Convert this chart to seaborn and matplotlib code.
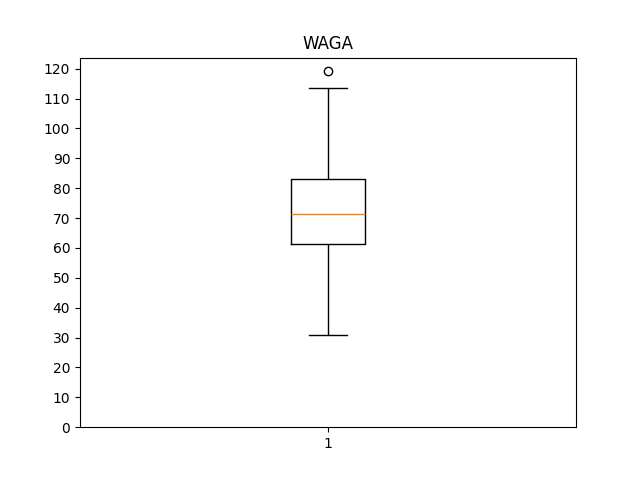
import matplotlib
matplotlib.use('Agg')
import matplotlib.pyplot as plt
import seaborn as sns
import pandas as pd

# WAGA sample, chosen so quartiles/whiskers match the chart
waga = [30.7, 50.0, 61.3, 66.0, 71.3, 78.0, 83.1, 113.5, 119.1]
title = 'WAGA'
tick_label = '1'

df = pd.DataFrame({'WAGA': waga})

fig, ax = plt.subplots(figsize=(6.4, 4.8), dpi=100)
sns.boxplot(data=df, y='WAGA', ax=ax, fill=False, color='black',
            width=0.15, linewidth=1.0, whis=1.5,
            boxprops={'color': 'black'},
            whiskerprops={'color': 'black'},
            capprops={'color': 'black'},
            medianprops={'color': '#ff7f0e', 'linewidth': 1.0},
            flierprops={'marker': 'o', 'markerfacecolor': 'none',
                        'markeredgecolor': 'black', 'markersize': 6})

ax.set_xlim(-0.5, 0.5)
ax.set_xticks([0])
ax.set_xticklabels([tick_label])
ax.set_yticks(range(0, 121, 10))
ax.set_ylim(0, 123.7)
ax.set_xlabel('')
ax.set_ylabel('')
ax.set_title(title)

fig.savefig('out.png', dpi=100)
